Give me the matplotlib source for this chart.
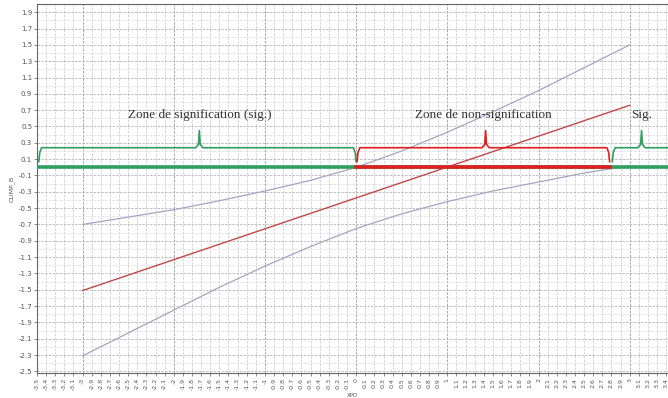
import numpy as np
import matplotlib
matplotlib.use('Agg')
import matplotlib.pyplot as plt

# regression line and its confidence band
x_fit = [-3.0, 3.0]
y_fit = [-1.51, 0.76]

x_band = [-3.0, -2.5, -2.0, -1.5, -1.0, -0.5, 0.0, 0.5, 1.0, 1.5, 2.0, 2.5, 3.0]
y_upper = [-0.70, -0.61, -0.52, -0.41, -0.29, -0.16, 0.0, 0.20, 0.43, 0.68, 0.94, 1.22, 1.50]
y_lower = [-2.31, -2.03, -1.75, -1.47, -1.21, -0.97, -0.75, -0.57, -0.42, -0.29, -0.18, -0.07, 0.02]

# zone limits on the x axis
x_left = -3.5
x_sig_end = 0.0
x_nonsig_end = 2.78
x_right = 3.6

zone_labels = ['Zone de signification (sig.)', 'Zone de non-signification', 'Sig.']

green = '#2f9e5e'
red = '#dd1f1f'

fig = plt.figure(figsize=(6.68, 3.98), dpi=100)
ax = fig.add_axes([0.0554, 0.0628, 0.9446, 0.927])

ax.set_xlim(-3.5, 3.42)
ax.set_ylim(-2.52, 2.0)

# grid
xt = np.round(np.arange(-3.5, 3.45, 0.1), 1)
yt = np.round(np.arange(-2.5, 1.95, 0.2), 1)
ax.set_xticks(xt)
ax.set_yticks(yt)
ax.set_xticklabels(['%g' % v for v in xt], rotation=90, fontsize=4.5, color='#555555')
ax.set_yticklabels(['%g' % v for v in yt], fontsize=5, color='#555555')
ax.tick_params(length=2, width=0.6, color='#777777', pad=1.5)

for v in xt:
    c = '#9a9a9a' if abs(v - round(v)) < 1e-6 else '#cdcdcd'
    ax.axvline(v, color=c, lw=0.6, ls=(0, (3, 1.5)), zorder=0)
for v in np.round(np.arange(-2.5, 2.0, 0.1), 1):
    c = '#b4b4b4' if v in yt else '#dedede'
    ax.axhline(v, color=c, lw=0.6, ls=(0, (3, 1.5)), zorder=0)

for s in ['left', 'bottom', 'top']:
    ax.spines[s].set_color('#666666')
    ax.spines[s].set_linewidth(0.8)
ax.spines['right'].set_visible(False)

ax.set_ylabel('CLIMP_B', fontsize=4.5, color='#555555', labelpad=3)
ax.set_xlabel('XPD', fontsize=4, color='#555555', labelpad=2)

# band and fitted line
ax.plot(x_band, y_upper, color='#a4a4c2', lw=0.9, zorder=3)
ax.plot(x_band, y_lower, color='#a4a4c2', lw=0.9, zorder=3)
ax.plot(x_fit, y_fit, color='#c0484a', lw=1.0, zorder=3)

# zero line, red over the non-significant zone
ax.plot([x_left, x_right], [0, 0], color=green, lw=2.6, zorder=4)
ax.plot([x_sig_end, x_nonsig_end], [0, 0], color=red, lw=2.6, zorder=5)


def brace(x0, x1, xm, color, y=0.24, y_end=0.07, y_peak=0.45):
    xs = [x0, x0 + 0.01, x0 + 0.03, xm - 0.04, xm - 0.01, xm, xm + 0.01, xm + 0.04,
          x1 - 0.03, x1 - 0.01, x1]
    ys = [y_end, y - 0.06, y, y, y + 0.04, y_peak, y + 0.04, y, y, y - 0.06, y_end]
    ax.plot(xs, ys, color=color, lw=1.2, zorder=4, solid_joinstyle='round')


brace(-3.48, 0.0, -1.72, green)
brace(0.01, x_nonsig_end, 1.42, red)
brace(2.81, 3.5, 3.13, green)

txt = dict(fontsize=9.5, family='Liberation Serif', color='#333333', ha='center', va='center')
ax.text(-1.72, 0.64, zone_labels[0], **txt)
ax.text(1.39, 0.64, zone_labels[1], **txt)
ax.text(3.13, 0.64, zone_labels[2], **txt)

fig.savefig('out.png', dpi=100)
